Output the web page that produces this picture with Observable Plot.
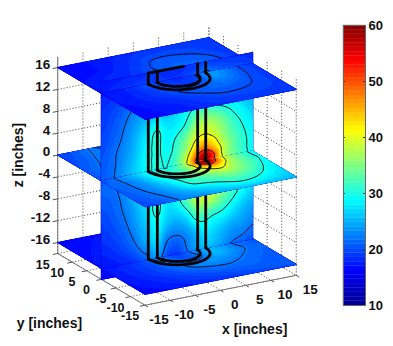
<!DOCTYPE html>
<html><head><meta charset="utf-8">
<script src="https://cdn.jsdelivr.net/npm/d3@7"></script>
<script src="https://cdn.jsdelivr.net/npm/@observablehq/plot@0.6"></script>
<style>html,body{margin:0;padding:0;background:#fff}#c{display:flex;width:393px;height:346px;overflow:hidden}svg{display:block}</style>
</head><body><div id="c"></div>
<script>
// ---------- readings from the picture ----------
const xTicks=[-15,-10,-5,0,5,10,15], yTicks=[-15,-10,-5,0,5,10,15];
const zTicks=[-16,-12,-8,-4,0,4,8,12,16];
const barTicks=[10,20,30,40,50,60];
const jetStops=[10,16.25,28.75,41.25,53.75,60];
const jetColors=["#00008f","#0000ff","#00ffff","#ffff00","#ff0000","#800000"];
const contourLevels=[22,30,40,50];
const topLevels=[20];
const coilRadii=[4,5.7];
const wireXs=[-5.7,-3.9,4.1,5.7];

// temperature on the plane y = 0: rows are z, columns are x
const gridX=[-15,-12,-9,-6,-4,-2,0,2,4,5.5,7,9,11,13,15];
const gridZ=[-18,-16,-13,-10,-7,-4,-2,0,1,2,3,4.5,7,10,13,16,18];
const tempY0=[
[16.5,17,17.5,18.5,19,18,17.5,17.5,18,18.5,18.5,18.5,18,18,17.5],
[17,17.5,18.5,21,23.5,20,19,21.8,24,25,25,23.5,21.8,21,20],
[18,19,21,24.5,27,22.4,21.7,23,25.5,28,27,25.5,24,23.5,22.3],
[19,20,22.5,26,29,26,25,27,31.5,31.5,30.5,29.5,27.5,25.5,24],
[19.5,21,23.5,27.5,31,27.5,28.5,32.5,37.5,38.5,37.5,34,31,28.5,26.5],
[20.5,21.5,24.5,28.5,29.5,28.5,30,36,41,42,41,36,33,30.5,28],
[21,22,25,29,30,30,32,37,45,50,46,40,35,31,28.5],
[20.5,22.4,25.5,29,30.5,30,33,40,52,60,52,40.3,35,31.5,29],
[20.5,22.3,25.5,29,30.5,29.8,32.5,39.5,50,58,52,39,34,31,29],
[20.3,22.2,25.3,29,30.5,29.5,32,38,46,49.5,46,39,33.8,31,29],
[20.2,22.1,25,28.8,30.5,29,31.5,36,43,45,43,37.5,33.5,30.8,29],
[20,22,24.5,28.5,30.7,28.5,31,35,39.5,40.5,39.5,36,32.5,30.3,28.5],
[19.5,21.2,24,27.5,30.3,28,28.5,31,36,37,36.5,34,31,29,27],
[19,20.5,22.8,25,26,25.5,26.5,28.5,30.5,30.8,30,29,28,26.5,25],
[18.5,19.5,21.3,23,23,22.5,23,24.5,27,28,27,26,25,24,23],
[17.5,18.5,19,19.5,19.5,19,19,20,21,23,22,21,20.5,20,19.5],
[17,17.5,18,18.5,18.5,18,18,18.5,19,19.5,19,19,18.5,18.5,18]];

// temperature on the planes z = 0 and z = -16: rows are y, columns are x
const gridY=[-15,-12,-9,-6,-3,-1.5,0,3,6,9,12,15];
const tempZ0=[
[19.5,20.3,21.7,22.8,23.3,24,24.7,25.3,25.8,26,26,26,25.8,25.5,25.2],
[20,21,22.2,24,25.2,26.3,27.2,28.2,29.3,30,30,29.5,28.5,27.5,26.5],
[20.3,21.5,23,25.5,28,30.2,30.8,31.5,32.5,33,33,32,30.8,29,27.5],
[20.7,21.8,23.8,27,29.5,31,32.5,34,36,37,37,35,33,30.5,28.5],
[21,22,24.5,28.5,30.5,31.5,33,38,41.5,44,42,37,34,31.5,29.5],
[20.7,22.2,25,28.8,30.5,31,33,38,48,52,48,39,34.5,31.5,29.2],
[20.5,22.4,25.5,29,30.5,30,33,40,52,60,52,40.3,35,31.5,29],
[20.5,22,24.5,27,28.5,29,31,33,35,37,37,36,33,30.5,28.5],
[20.3,21.8,23.5,25.5,27,28,29,30,31,32,32,31,30,28.5,27.5],
[20,21,23,24,25,26,27,27.5,28,28.5,28.5,28,27.5,27,26.5],
[19.7,20.7,22.3,22.8,23.5,24,24.5,25,25.5,25.8,26,26,25.8,25.5,25.2],
[19.3,20.5,22,21.8,22,22.3,22.7,23,23.2,23.5,23.7,23.7,23.7,23.7,23.5]];
const tempZm16=[
[16.5,16.8,17.2,17.6,18,18.3,18.6,18.9,19.2,19.4,19.6,19.8,20,20,20.2],
[16.8,17.2,17.8,18.4,18.9,19.3,19.7,20.1,20.4,20.6,20.7,20.8,20.7,20.6,20.5],
[17,17.6,18.3,19.2,19.9,20.6,21.2,21.7,21.9,21.9,21.7,21.4,21,20.8,20.6],
[17.2,17.9,18.8,20,21,22,22.8,23.2,23.5,23.3,22.9,22.2,21.5,21,20.8],
[17.4,18,19,20.3,21.8,21,20.5,21,23,25,25,23.5,22.3,21.3,21],
[17.5,18,19,20.5,22.5,20.5,19.8,21.5,23.5,25,25,23.5,22,21.2,20.5],
[17,17.5,18.5,21,23.5,20,19,21.8,24,25,25,23.5,21.8,21,20],
[17,17.5,18.3,20,21.5,20.5,20.5,21.5,23,24,24,23,21.8,21,20.3],
[16.8,17.3,18,19,20.3,21,21.8,22.3,22.8,22.8,22.5,22,21.3,20.8,20.3],
[16.6,17,17.6,18.5,19.3,20,20.7,21.2,21.5,21.6,21.5,21.2,20.9,20.5,20.2],
[16.3,16.7,17.2,17.8,18.4,18.9,19.4,19.8,20.1,20.3,20.4,20.3,20.2,20.1,20],
[16,16.4,16.8,17.3,17.8,18.2,18.6,18.9,19.1,19.3,19.4,19.5,19.5,19.5,19.5]];

// temperature on the plane z = 16: rows are y, columns are x
const topX=[-15,-10,-6,-3,0,3,6,9,12,15];
const topY=[-15,-10,-6,-3,0,3,6,10,15];
const tempZ16=[
[16.5,17,17.5,18,18.5,18.5,19,19,19,19],
[16.5,17.5,18,18.8,19.5,20,20,19.8,19.5,19.2],
[17,18,19,20,20.5,21,21.5,20.8,19.7,19.2],
[17,18,19.5,19.5,19,20,23,22,19.9,19.2],
[17,18,20,19,18.5,19.5,24,22.5,20,19.2],
[17,18,19,19.5,19.5,20.5,23,22,20,19.2],
[17,18,18.5,19.5,20.3,21,21,20.8,19.8,19],
[16.5,17,18,18.8,19.9,20.2,20.1,19.8,19.3,19],
[16.5,17,17.5,18,18.5,18.8,19,19,19,18.8]];

// ---------- view: az 30, el 20 ----------
const W=325,H=346,S=5.82,OX=176.5,OY=165.5;
const az=30*Math.PI/180, el=20*Math.PI/180;
const project=(x,y,z)=>{
  const d=x*Math.sin(az)+y*Math.cos(az);
  return [x*Math.cos(az)-y*Math.sin(az), z*Math.cos(el)+d*Math.sin(el)];
};
const P=p=>project(p[0],p[1],p[2]);

// ---------- surface shading: smooth rendering of a typed grid (like "shading interp") ----------
const K=4;
const cr=(a,b,c,d,t)=>.5*((2*b)+(c-a)*t+(2*a-5*b+4*c-d)*t*t+(3*b-a-3*c+d)*t*t*t);
const up1=arr=>{
  const out=[],n=arr.length;
  for(let i=0;i<n-1;i++) for(let j=0;j<K;j++)
    out.push(cr(arr[Math.max(0,i-1)],arr[i],arr[i+1],arr[Math.min(n-1,i+2)],j/K));
  out.push(arr[n-1]);
  return out;
};
const upAxis=arr=>{
  const out=[];
  for(let i=0;i<arr.length-1;i++) for(let j=0;j<K;j++) out.push(arr[i]+(arr[i+1]-arr[i])*j/K);
  out.push(arr[arr.length-1]);
  return out;
};
const refine=rows=>{
  const r=rows.map(up1);
  const cols=r[0].map((_,i)=>up1(r.map(q=>q[i])));
  return cols[0].map((_,j)=>cols.map(c=>c[j]));
};
const fineY0=refine(tempY0), fineZ0=refine(tempZ0), fineZm16=refine(tempZm16), fineZ16=refine(tempZ16);
const fX=upAxis(gridX), fZ=upAxis(gridZ), fY=upAxis(gridY), fTX=upAxis(topX), fTY=upAxis(topY);

// ---------- contour helpers ----------
const NB=64;
const bandEdges=d3.range(NB).map(k=>10+k*50/NB);
const lookup=(g,arr)=>{
  const i=Math.max(0,Math.min(arr.length-1,g-.5)), f=Math.min(arr.length-2,Math.floor(i));
  return arr[f]+(i-f)*(arr[f+1]-arr[f]);
};
function bands(rows,us,vs,to3){
  const n=us.length,m=vs.length,vals=rows.flat();
  const map=([a,b])=>P(to3(lookup(a,us),lookup(b,vs)));
  return d3.contours().size([n,m]).thresholds(bandEdges)(vals)
    .filter(c=>c.coordinates.length)
    .map(c=>({type:"Feature",properties:{},value:c.value+25/NB,
      geometry:{type:"MultiPolygon",coordinates:c.coordinates.map(pg=>pg.map(r=>r.map(map)))}}));
}
function lines(rows,us,vs,to3,levels){
  const n=us.length,m=vs.length,vals=rows.flat();
  const map=([a,b])=>P(to3(lookup(a,us),lookup(b,vs)));
  const edge=([a,b],[c,d])=>(a<=.5&&c<=.5)||(a>=n-.5&&c>=n-.5)||(b<=.5&&d<=.5)||(b>=m-.5&&d>=m-.5);
  const segs=[];
  for(const c of d3.contours().size([n,m]).thresholds(levels)(vals))
    for(const pg of c.coordinates) for(const r of pg){
      let cur=[];
      for(let i=0;i<r.length;i++){
        if(i&&edge(r[i-1],r[i])){ if(cur.length>1)segs.push(cur); cur=[]; }
        cur.push(map(r[i]));
      }
      if(cur.length>1)segs.push(cur);
    }
  return [{type:"Feature",properties:{},geometry:{type:"MultiLineString",coordinates:segs}}];
}
const jetOpts={type:"linear",domain:jetStops,range:jetColors,clamp:true};
function surf(rows,us,vs,to3,levels=contourLevels){
  return [
    Plot.geo(bands(rows,us,vs,to3),{fill:d=>d.value,stroke:d=>d.value,strokeWidth:.3}),
    Plot.geo(lines(rows,us,vs,to3,levels),{stroke:"#000",strokeWidth:1,strokeOpacity:.85})
  ];
}
const zi=v=>gridZ.indexOf(v)*K;
const yPlane=(a,b)=>surf(fineY0.slice(zi(a),zi(b)+1),fX,fZ.slice(zi(a),zi(b)+1),(x,z)=>[x,0,z]);
const zPlane=(rows,ys,xs,z,back,levels)=>{
  const i=ys.indexOf(0);
  return back? surf(rows.slice(i),xs,ys.slice(i),(x,y)=>[x,y,z],levels)
             : surf(rows.slice(0,i+1),xs,ys.slice(0,i+1),(x,y)=>[x,y,z],levels);
};

// ---------- wires ----------
const toPt=(id)=>(p)=>{const [h,w]=P(p);return {id,h,w};};
const wire=(paths,sw=2.8)=>Plot.line(paths.flatMap((p,i)=>p.map(toPt(i))),{x:"h",y:"w",z:"id",stroke:"#000",strokeWidth:sw,strokeLinejoin:"round",strokeLinecap:"round"});
const ring=z=>coilRadii.map(R=>d3.range(180,361,10).map(t=>[R*Math.cos(t*Math.PI/180),R*Math.sin(t*Math.PI/180),z]));
const verticals=(a,b)=>wireXs.map(x=>[[x,0,a],[x,0,b]]);

// ---------- box, grid ----------
const L=15,ZL=18;
const seg=(a,b)=>{const [x1,y1]=P(a),[x2,y2]=P(b);return {x1,y1,x2,y2};};
const gridSegs=[
  ...xTicks.map(x=>seg([x,L,-ZL],[x,L,ZL])),
  ...yTicks.map(y=>seg([L,y,-ZL],[L,y,ZL])),
  ...zTicks.map(z=>seg([-L,L,z],[L,L,z])),
  ...zTicks.map(z=>seg([L,L,z],[L,-L,z])),
  ...xTicks.map(x=>seg([x,L,-ZL],[x,-L,-ZL])),
  ...yTicks.map(y=>seg([-L,y,-ZL],[L,y,-ZL]))
];
const axisSegs=[seg([-L,L,-ZL],[-L,L,ZL]),seg([-L,L,-ZL],[-L,-L,-ZL]),seg([-L,-L,-ZL],[L,-L,-ZL])];
const tickSegs=[
  ...zTicks.map(z=>seg([-L,L,z],[-L-1,L,z])),
  ...xTicks.map(x=>seg([x,-L,-ZL],[x,-L-1,-ZL])),
  ...yTicks.map(y=>seg([-L,y,-ZL],[-L-1,y,-ZL]))
];
const linkOf=(d,o)=>Plot.link(d,{x1:"x1",y1:"y1",x2:"x2",y2:"y2",...o});
const labelRows=(vals,f)=>vals.map(v=>{const [h,w]=P(f(v));return {h,w,t:String(v)};});
const tk=(rows,o)=>Plot.text(rows,{x:"h",y:"w",text:"t",fontSize:13.5,fontWeight:"bold",fill:"#111",...o});
const nameRow=(p,t)=>{const [h,w]=P(p);return [{h,w,t}];};

const marks=[
  linkOf(gridSegs,{stroke:"#444",strokeWidth:1,strokeDasharray:"1,2"}),
  linkOf(axisSegs,{stroke:"#777",strokeWidth:1}),
  linkOf(tickSegs,{stroke:"#555",strokeWidth:1}),
  tk(labelRows(zTicks,z=>[-L,L,z]),{textAnchor:"end",dx:-7.5,dy:-3}),
  tk(labelRows(xTicks,x=>[x,-L,-ZL]),{dx:14,dy:14}),
  tk(labelRows(yTicks,y=>[-L,y,-ZL]),{dx:-15,dy:11,fontSize:12.5}),
  tk(nameRow([-L,L,0],"z [inches]"),{rotate:-90,dx:-39,fontSize:14}),
  tk(nameRow([0,-L,-ZL],"x [inches]"),{dx:34,dy:39,fontSize:14}),
  tk(nameRow([-L,0,-ZL],"y [inches]"),{dx:-52,dy:44.5,fontSize:14}),

  ...zPlane(fineZm16,fY,fX,-16,true),
  ...yPlane(-18,-16),
  ...zPlane(fineZm16,fY,fX,-16,false),
  ...yPlane(-16,0),
  wire(verticals(-16,0)), wire(ring(-16)),
  ...zPlane(fineZ0,fY,fX,0,true),
  ...yPlane(0,16),
  ...zPlane(fineZ0,fY,fX,0,false),
  wire(verticals(0,16)), wire(ring(0)),
  ...zPlane(fineZ16,fTY,fTX,16,true,topLevels),
  ...yPlane(16,18),
  ...zPlane(fineZ16,fTY,fTX,16,false,topLevels),
  wire(ring(16)), wire(verticals(16,18)),
  wire([[[-5.7,0,18],[1.3,0,18]]])
];

const main=Plot.plot({
  width:W,height:H,margin:0,
  style:{background:"#fff",fontFamily:"'Liberation Sans',Arial,sans-serif",overflow:"visible"},
  x:{axis:null,domain:[-OX/S,(W-OX)/S],range:[0,W]},
  y:{axis:null,domain:[OY/S,-(H-OY)/S],range:[0,H]},
  color:jetOpts,
  marks
});

// ---------- colour bar ----------
const barRows=d3.range(NB).map(k=>({y1:10+k*50/NB,y2:10+(k+1)*50/NB}));
const bar=Plot.plot({
  width:68,height:H,marginLeft:18,marginRight:28,marginTop:25,marginBottom:41,
  style:{background:"#fff",fontFamily:"'Liberation Sans',Arial,sans-serif",overflow:"visible"},
  x:{axis:null,domain:[0,1]},
  y:{domain:[10,60]},
  color:jetOpts,
  marks:[
    Plot.rect(barRows,{x1:0,x2:1,y1:"y1",y2:"y2",fill:d=>(d.y1+d.y2)/2,stroke:d=>(d.y1+d.y2)/2,strokeWidth:.3}),
    Plot.ruleY(barTicks,{x1:0,x2:.09,stroke:"#333"}),
    Plot.ruleY(barTicks,{x1:.91,x2:1,stroke:"#333"}),
    Plot.frame({stroke:"#666"}),
    Plot.axisY(barTicks,{anchor:"right",tickSize:0,tickPadding:3,label:null,fontSize:13,fontWeight:"bold",fill:"#111",tickFormat:d=>String(d)})
  ]
});
const c=document.getElementById("c");
c.append(main,bar);
</script>
</body></html>
